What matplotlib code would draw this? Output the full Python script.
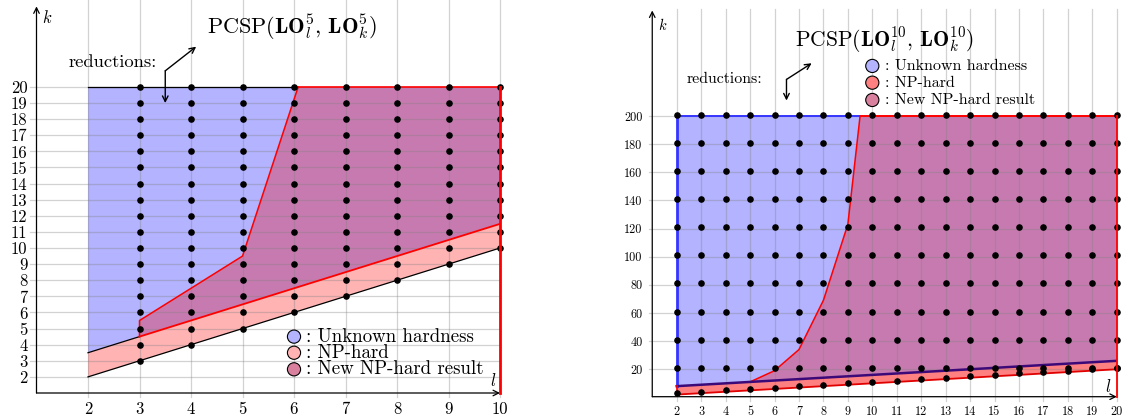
import matplotlib.pyplot as plt
from matplotlib.patches import Polygon

plt.rcParams['font.family'] = 'cmr10'
plt.rcParams['mathtext.fontset'] = 'cm'
plt.rcParams['axes.unicode_minus'] = False

# ---------- PCSP(LO^5_l, LO^5_k) ----------
l5_ticks = list(range(2, 11))
k5_ticks = list(range(2, 21))
k5_top = 20
# NP-hard band: lower edge k = l, upper edge
band5_l = [2, 10]
band5_low = [2, 10]
band5_up = [3.5, 11.5]
# boundary of the new NP-hard result
new5_l = [3, 3, 5, 6.08]
new5_k = [4.5, 5.5, 9.5, 20]
dot5_l = list(range(3, 11))

# ---------- PCSP(LO^10_l, LO^10_k) ----------
l10_ticks = list(range(2, 21))
k10_ticks = list(range(20, 201, 20))
k10_top = 200
band10_l = [2, 20]
band10_low = [2, 20]
band10_up = [8, 26]
new10_l = [5, 6, 7, 8, 9, 9.5]
new10_k = [11, 19, 34, 69, 123, 200]
dot10_l = list(range(2, 21))
dot10_rows = list(range(21, 202, 20))

legend_labels = [': Unknown hardness', ': NP-hard', ': New NP-hard result']

BLUE = '#B3B3FF'
PURPLE = '#C77AB0'
LEG_PURPLE = '#D9809F'

fig = plt.figure(figsize=(11.29, 4.2), dpi=100)
ax1 = fig.add_axes([36.5 / 1129, 27 / 420, 463.5 / 1129, 386.6 / 420])
ax2 = fig.add_axes([652.25 / 1129, 23.3 / 420, 464.55 / 1129, 386.2 / 420])


def base_axes(ax, x0, x1, y0, y1, xt, yt, gx0, gytop, fs, pad):
    ax.set_xlim(x0, x1)
    ax.set_ylim(y0, y1)
    for s in ax.spines.values():
        s.set_visible(False)
    ax.set_xticks(xt)
    ax.set_yticks(yt)
    ax.tick_params(length=0, labelsize=fs, pad=pad)
    for x in xt:
        ax.plot([x, x], [y0 - (y1 - y0) * 0.01, gytop], color='#808080', alpha=0.35,
                lw=0.9, zorder=2, clip_on=False)
    for y in yt:
        ax.plot([gx0, x1], [y, y], color='#808080', alpha=0.35, lw=0.9, zorder=2,
                clip_on=False)
    arr = dict(arrowstyle='->', lw=0.9, color='black', shrinkA=0, shrinkB=0)
    ax.annotate('', xy=(x0, y1), xytext=(x0, y0), arrowprops=arr, annotation_clip=False, zorder=6)
    ax.annotate('', xy=(x1, y0), xytext=(x0, y0), arrowprops=arr, annotation_clip=False, zorder=6)


# ===== left chart =====
base_axes(ax1, 1, 10, 1, 25, l5_ticks, k5_ticks, 0.88, 25.4, 12, 6.5)

ax1.add_patch(Polygon([(band5_l[0], band5_up[0]), (band5_l[0], k5_top), (band5_l[1], k5_top),
                       (band5_l[1], band5_up[1])], closed=True, fc=BLUE, ec='none', zorder=1))
ax1.add_patch(Polygon([(band5_l[0], band5_low[0]), (band5_l[1], band5_low[1]),
                       (band5_l[1], band5_up[1]), (band5_l[0], band5_up[0])],
                      closed=True, fc='#FFB3B3', ec='none', zorder=1))
slope5 = (band5_up[1] - band5_up[0]) / (band5_l[1] - band5_l[0])
start5 = band5_up[0] + slope5 * (new5_l[0] - band5_l[0])
poly5 = list(zip(new5_l, new5_k)) + [(band5_l[1], k5_top), (band5_l[1], band5_up[1])]
ax1.add_patch(Polygon(poly5, closed=True, fc=PURPLE, ec='none', zorder=1))

ax1.plot([band5_l[0], new5_l[-1]], [k5_top, k5_top], color='black', lw=0.9, zorder=3)
ax1.plot([new5_l[-1], band5_l[1]], [k5_top, k5_top], color='red', lw=1.2, zorder=3)
ax1.plot(band5_l, band5_low, color='black', lw=0.9, zorder=3)
ax1.plot([band5_l[0], new5_l[0]], [band5_up[0], start5], color='black', lw=0.9, zorder=3)
ax1.plot([new5_l[0], band5_l[1]], [start5, band5_up[1]], color='red', lw=1.3, zorder=3)
ax1.plot(new5_l, new5_k, color='red', lw=1.1, zorder=3)
ax1.plot([band5_l[1], band5_l[1]], [1, k5_top], color='red', lw=2, zorder=7, clip_on=False)

dx, dy = [], []
for l in dot5_l:
    for k in range(l, k5_top + 1):
        dx.append(l)
        dy.append(k)
ax1.scatter(dx, dy, s=14, color='black', zorder=5, clip_on=False)

ax1.text(5.96, 23.7, r'$\mathrm{PCSP}(\mathbf{LO}_l^5,\,\mathbf{LO}_k^5)$', fontsize=16,
         ha='center', va='center')
ax1.text(2.48, 21.5, 'reductions:', fontsize=13.4, ha='center', va='center')
arr = dict(arrowstyle='->', lw=1, color='black', shrinkA=0, shrinkB=0)
ax1.annotate('', xy=(3.5, 19.0), xytext=(3.5, 21.0), arrowprops=arr, zorder=6)
ax1.annotate('', xy=(4.1, 22.5), xytext=(3.5, 21.0), arrowprops=arr, zorder=6)
ax1.text(1.1, 24.3, r'$k$', fontsize=12, ha='left', va='center')
ax1.text(9.86, 1.75, r'$l$', fontsize=12, ha='center', va='center')

leg_colors5 = [BLUE, '#FFB3B3', LEG_PURPLE]
leg_y5 = [4.5, 3.5, 2.47]
ax1.scatter([6.0] * 3, leg_y5, s=90, c=leg_colors5, edgecolors='black', linewidths=0.8, zorder=6)
for y, t in zip(leg_y5, legend_labels):
    ax1.text(6.23, y, t, fontsize=13.6, ha='left', va='center', zorder=6)

# ===== right chart =====
base_axes(ax2, 1, 20, 0.5, 275, l10_ticks, k10_ticks, 0.85, 276, 8.8, 6.5)
ax2.tick_params(axis='y', pad=7)

ax2.add_patch(Polygon([(band10_l[0], band10_up[0]), (band10_l[0], k10_top), (band10_l[1], k10_top),
                       (band10_l[1], band10_up[1])], closed=True, fc=BLUE, ec='none', zorder=1))
ax2.add_patch(Polygon([(band10_l[0], band10_low[0]), (band10_l[1], band10_low[1]),
                       (band10_l[1], band10_up[1]), (band10_l[0], band10_up[0])],
                      closed=True, fc='#FF8080', ec='none', zorder=1))
poly10 = list(zip(new10_l, new10_k)) + [(band10_l[1], k10_top), (band10_l[1], band10_up[1])]
ax2.add_patch(Polygon(poly10, closed=True, fc=PURPLE, ec='none', zorder=1))

ax2.plot([band10_l[0], band10_l[0]], [band10_up[0], k10_top], color='#3535FF', lw=2, zorder=3)
ax2.plot([band10_l[0], new10_l[-1]], [k10_top, k10_top], color='#3535FF', lw=1.4, zorder=3)
ax2.plot([new10_l[-1], band10_l[1]], [k10_top, k10_top], color='red', lw=1.4, zorder=3)
ax2.plot(new10_l, new10_k, color='red', lw=1.1, zorder=3)
ax2.plot(band10_l, band10_up, color='#3C0A78', lw=1.8, zorder=3)
ax2.plot(band10_l, band10_low, color='#E00000', lw=1.3, zorder=3)
ax2.plot([band10_l[0], band10_l[0]], [band10_low[0], band10_up[0]], color='red', lw=1.2, zorder=3)
ax2.plot([band10_l[1], band10_l[1]], [0.5, k10_top], color='red', lw=1.3, zorder=7, clip_on=False)

dx, dy = [], []
for l in dot10_l:
    for k in [l + 1] + dot10_rows:
        dx.append(l)
        dy.append(k)
ax2.scatter(dx, dy, s=14, color='black', zorder=5, clip_on=False)

ax2.text(10.5, 254, r'$\mathrm{PCSP}(\mathbf{LO}_l^{10},\,\mathbf{LO}_k^{10})$', fontsize=15.5,
         ha='center', va='center')
ax2.text(3.97, 226, 'reductions:', fontsize=11.4, ha='center', va='center')
ax2.annotate('', xy=(6.49, 211), xytext=(6.49, 226), arrowprops=arr, zorder=6)
ax2.annotate('', xy=(7.52, 237.5), xytext=(6.49, 226), arrowprops=arr, zorder=6)
ax2.text(1.25, 265, r'$k$', fontsize=10.5, ha='left', va='center')
ax2.text(19.65, 8, r'$l$', fontsize=12, ha='center', va='center')

leg_colors10 = [BLUE, '#FF8080', LEG_PURPLE]
leg_y10 = [235.6, 223.7, 211.4]
ax2.scatter([10.0] * 3, leg_y10, s=90, c=leg_colors10, edgecolors='black', linewidths=0.8, zorder=6)
for y, t in zip(leg_y10, legend_labels):
    ax2.text(10.5, y, t, fontsize=11.5, ha='left', va='center', zorder=6)

fig.savefig('out.png', dpi=100)
